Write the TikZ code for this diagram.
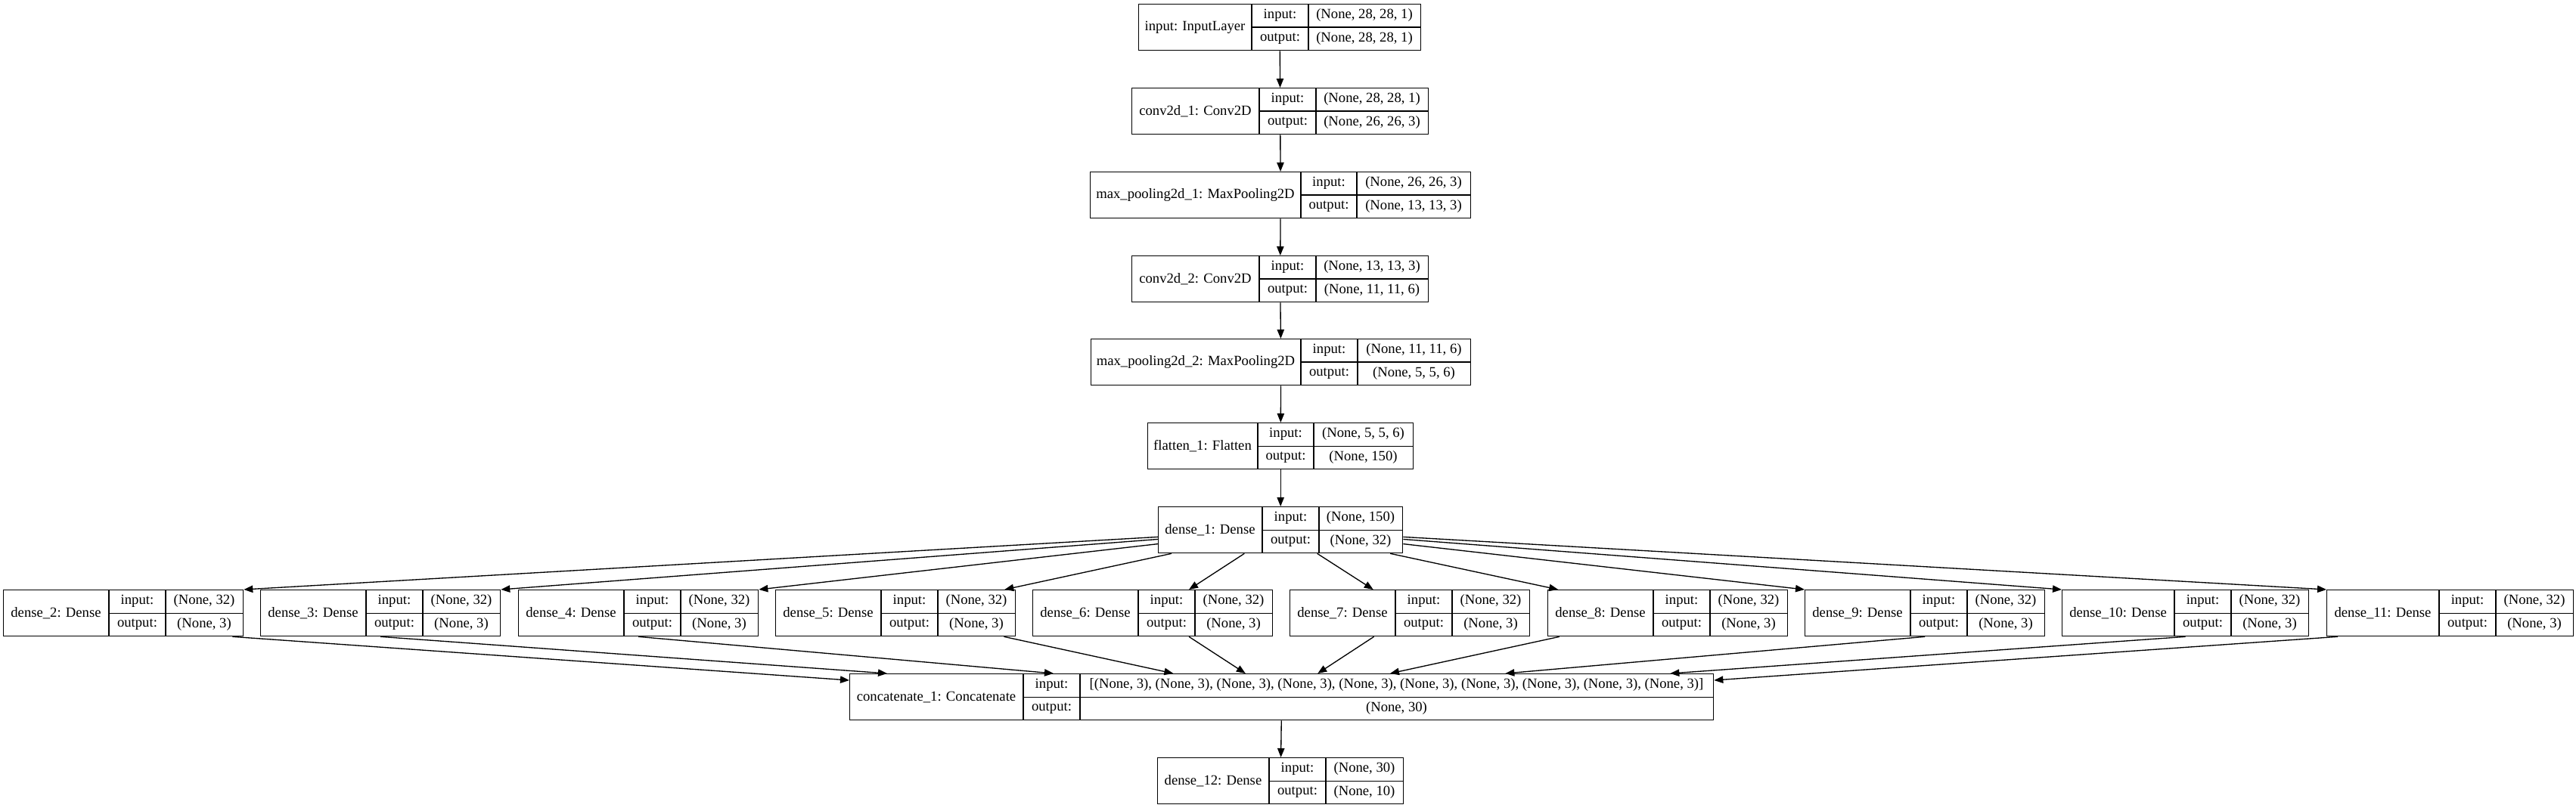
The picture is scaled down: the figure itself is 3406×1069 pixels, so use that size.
\documentclass[tikz,border=0pt]{standalone}
\usepackage{fontspec}
\setmainfont{Liberation Serif}
\usetikzlibrary{calc,arrows.meta}

\tikzset{
  layerbox/.style={draw, inner sep=0pt, minimum height=61*0.75pt},
  celltext/.style={inner sep=0pt},
  edge/.style={-{Triangle[length=9pt,width=7pt]}},
}

% name, left, top, widths of the three columns, label, input shape, output shape
\newcommand{\kerasbox}[9]{%
  \node[layerbox, minimum width={(#4+#5+#6)*0.75pt}, anchor=north west] (#1) at (#2,#3) {};
  \draw ($(#1.north west)+(#4,0)$) -- ($(#1.south west)+(#4,0)$);
  \draw ($(#1.north west)+(#4+#5,0)$) -- ($(#1.south west)+(#4+#5,0)$);
  \draw ($(#1.west)+(#4,0)$) -- (#1.east);
  \node[celltext] at ($(#1.west)+(#4/2,0)$) {#7};
  \node[celltext] at ($(#1.north west)+(#4+#5/2,15.25)$) {input:};
  \node[celltext] at ($(#1.north west)+(#4+#5/2,45.75)$) {output:};
  \node[celltext] at ($(#1.north west)+(#4+#5+#6/2,15.25)$) {#8};
  \node[celltext] at ($(#1.north west)+(#4+#5+#6/2,45.75)$) {#9};
}

\begin{document}
\begin{tikzpicture}[x=0.75pt, y=-0.75pt, line width=1pt, font=\fontsize{14}{16}\selectfont]
    % The page
    \path[fill=white, use as bounding box] (0,0) rectangle (3406,1069);
    % The layer chain
    \kerasbox{in}{1505}{5}{150}{75}{148}{input: InputLayer}{(None, 28, 28, 1)}{(None, 28, 28, 1)}
    \kerasbox{c1}{1496}{116}{169}{75}{148}{conv2d\_1: Conv2D}{(None, 28, 28, 1)}{(None, 26, 26, 3)}
    \kerasbox{mp1}{1441}{227}{279}{74}{150}{max\_pooling2d\_1: MaxPooling2D}{(None, 26, 26, 3)}{(None, 13, 13, 3)}
    \kerasbox{c2}{1496}{338}{169}{75}{148}{conv2d\_2: Conv2D}{(None, 13, 13, 3)}{(None, 11, 11, 6)}
    \kerasbox{mp2}{1442}{448}{278}{75}{149}{max\_pooling2d\_2: MaxPooling2D}{(None, 11, 11, 6)}{(None, 5, 5, 6)}
    \kerasbox{fl}{1517}{559}{146}{74}{131}{flatten\_1: Flatten}{(None, 5, 5, 6)}{(None, 150)}
    \kerasbox{d1}{1531}{670}{138}{75}{110}{dense\_1: Dense}{(None, 150)}{(None, 32)}
    \foreach \a/\b in {in/c1, c1/mp1, mp1/c2, c2/mp2, mp2/fl, fl/d1}
        \draw[edge] (\a) -- (\b);
    % The dense branches
    \foreach \i/\x/\w in {2/4/140, 3/344/140, 4/685/140, 5/1025/140, 6/1365/140,
                          7/1705/140, 8/2046/140, 9/2386/140, 10/2726/149, 11/3076/149}
        \kerasbox{d\i}{\x}{780}{\w}{75}{102}{dense\_\i: Dense}{(None, 32)}{(None, 3)};
    % The merge and the output
    \kerasbox{cc}{1123}{891}{230}{75}{837}{concatenate\_1: Concatenate}%
        {[(None, 3), (None, 3), (None, 3), (None, 3), (None, 3), (None, 3), (None, 3), (None, 3), (None, 3), (None, 3)]}{(None, 30)}
    \kerasbox{d12}{1530}{1002}{148}{75}{102}{dense\_12: Dense}{(None, 30)}{(None, 10)}
    % Fan out
    \foreach \t in {d2.north east, d3.north east, d4.north east, d5, d6, d7, d8,
                    d9.north west, d10.north west, d11.north west}
        \draw[edge] (d1) -- (\t);
    % Fan in: the far branches leave from their bottom edge
    \coordinate (dd2) at ($(d2.south east)+(-15,0)$);
    \coordinate (dd3) at (d3.south);
    \coordinate (dd4) at (d4.south);
    \coordinate (dd9) at (d9.south);
    \coordinate (dd10) at (d10.south);
    \coordinate (dd11) at ($(d11.south west)+(15,0)$);
    \coordinate (cc2) at ($(cc.north west)+(0,9)$);
    \coordinate (cc3) at ($(cc.north west)+(50,0)$);
    \coordinate (cc4) at ($(cc.north west)+(270,0)$);
    \coordinate (cc9) at ($(cc.north east)+(-276,0)$);
    \coordinate (cc10) at ($(cc.north east)+(-58,0)$);
    \coordinate (cc11) at ($(cc.north east)+(0,9)$);
    \foreach \s/\t in {dd2/cc2, dd3/cc3, dd4/cc4, d5/cc, d6/cc, d7/cc, d8/cc,
                       dd9/cc9, dd10/cc10, dd11/cc11}
        \draw[edge] (\s) -- (\t);
    \draw[edge] (cc) -- (d12);
\end{tikzpicture}
\end{document}
